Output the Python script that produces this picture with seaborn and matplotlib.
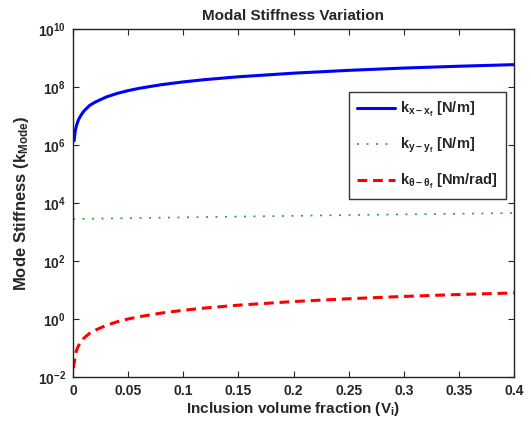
"""Modal stiffness vs inclusion volume fraction"""

import numpy as np
import pandas as pd
import matplotlib
matplotlib.use('Agg')
import matplotlib.pyplot as plt
import seaborn as sns

# values
v_x = [0.001, 0.002, 0.003, 0.005, 0.0075, 0.01, 0.015, 0.02, 0.03, 0.04, 0.05,
       0.06, 0.08, 0.10, 0.12, 0.15, 0.20, 0.25, 0.30, 0.35, 0.40]
k_x = [1.4e6, 3.0e6, 4.5e6, 7.5e6, 1.1e7, 1.5e7, 2.3e7, 3.0e7, 4.5e7, 6.0e7, 7.5e7,
       9.0e7, 1.2e8, 1.5e8, 1.8e8, 2.25e8, 3.0e8, 3.75e8, 4.5e8, 5.2e8, 5.9e8]

v_y = [0.0, 0.05, 0.10, 0.15, 0.20, 0.25, 0.30, 0.35, 0.40]
k_y = [2.8e3, 3.0e3, 3.2e3, 3.4e3, 3.6e3, 3.85e3, 4.05e3, 4.25e3, 4.5e3]

v_t = [0.0005, 0.001, 0.002, 0.003, 0.005, 0.0075, 0.01, 0.015, 0.02, 0.03, 0.04,
       0.05, 0.06, 0.08, 0.10, 0.12, 0.15, 0.20, 0.25, 0.30, 0.35, 0.40]
k_t = [0.02, 0.03, 0.05, 0.08, 0.12, 0.17, 0.22, 0.32, 0.41, 0.6, 0.8,
       1.0, 1.2, 1.6, 2.0, 2.4, 3.0, 4.0, 5.0, 6.0, 7.0, 7.9]

labels = [r'$\mathbf{k_{x-x_f}}$ [N/m]',
          r'$\mathbf{k_{y-y_f}}$ [N/m]',
          r'$\mathbf{k_{\theta-\theta_f}}$ [Nm/rad]']

sns.set_style('ticks')
plt.rcParams['font.family'] = ['Liberation Sans', 'DejaVu Sans']
plt.rcParams['font.weight'] = 'bold'
plt.rcParams['mathtext.fontset'] = 'custom'
plt.rcParams['mathtext.rm'] = 'Liberation Sans:bold'
plt.rcParams['mathtext.bf'] = 'Liberation Sans:bold'
plt.rcParams['mathtext.it'] = 'Liberation Sans:bold'

fig = plt.figure(figsize=(5.31, 4.24), dpi=100)
ax = fig.add_axes([73 / 531, 47 / 424, 441 / 531, 348 / 424])

sns.lineplot(x=v_x, y=k_x, ax=ax, color='#0000ff', lw=2.2, label=labels[0])
sns.lineplot(x=v_y, y=k_y, ax=ax, color='#2e9e2e', lw=1.2,
             linestyle=(0, (1.2, 4.5)), label=labels[1])
sns.lineplot(x=v_t, y=k_t, ax=ax, color='#ff0000', lw=2.2,
             linestyle=(0, (3.2, 1.9)), label=labels[2])

ax.set_yscale('log')
ax.set_xlim(0, 0.4)
ax.set_ylim(1e-2, 1e10)
ax.set_xticks(np.arange(0, 0.401, 0.05))
ax.set_xticklabels(['0', '0.05', '0.1', '0.15', '0.2', '0.25', '0.3', '0.35', '0.4'])
exps = list(range(-2, 11, 2))
ax.set_yticks([10.0 ** e for e in exps])
ax.set_yticklabels([r'$\mathbf{10^{%d}}$' % e for e in exps])
ax.yaxis.set_minor_locator(matplotlib.ticker.NullLocator())

ax.tick_params(direction='in', top=True, right=True, length=4, width=0.8,
               labelsize=10, pad=5)
for s in ax.spines.values():
    s.set_linewidth(1.0)
    s.set_color('#222222')

ax.set_title('Modal Stiffness Variation', fontsize=11, fontweight='bold', pad=6.5)
ax.set_xlabel(r'Inclusion volume fraction (V$_\mathbf{i}$)', fontsize=11,
              fontweight='bold', labelpad=1.5)
ax.set_ylabel(r'Mode Stiffness (k$_\mathbf{Mode}$)', fontsize=12,
              fontweight='bold', labelpad=5)

leg = ax.legend(loc='upper left', bbox_to_anchor=(0.626, 0.819), fontsize=10.5,
                frameon=True, fancybox=False, handlelength=2.6, labelspacing=1.15,
                borderpad=0.55, handletextpad=0.35, borderaxespad=0)
leg.get_frame().set_edgecolor('black')
leg.get_frame().set_linewidth(1.0)
for t in leg.get_texts():
    t.set_fontweight('bold')

fig.savefig('out.png', dpi=100)
